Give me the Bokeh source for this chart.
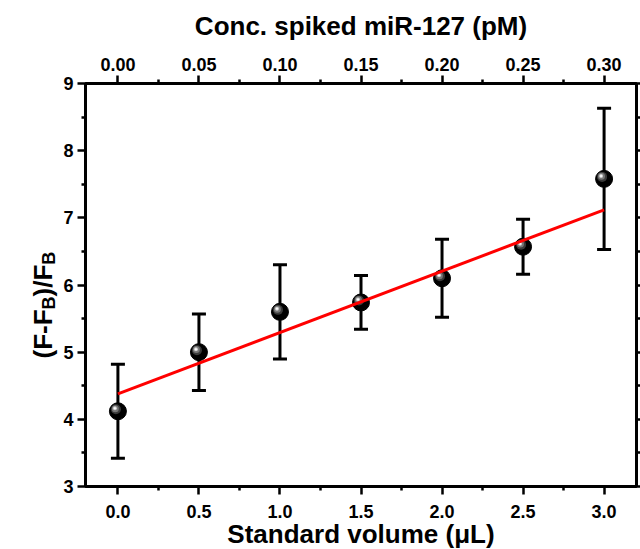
import math
from bokeh.plotting import figure
from bokeh.layouts import row
from bokeh.models import (Range1d, LinearAxis, FixedTicker, NumeralTickFormatter,
                          CustomJSTickFormatter, Whisker, ColumnDataSource, TeeHead, Label)
from bokeh.embed import file_html
from bokeh.resources import INLINE

# ---- data ----
volume = [0.0, 0.5, 1.0, 1.5, 2.0, 2.5, 3.0]          # Standard volume (uL)
ratio = [4.12, 5.00, 5.60, 5.74, 6.10, 6.57, 7.58]     # (F-FB)/FB
err = [0.70, 0.57, 0.70, 0.40, 0.58, 0.41, 1.05]       # error bar half-length
fit_intercept = 4.38
fit_slope = 0.913

x_ticks = [0.0, 0.5, 1.0, 1.5, 2.0, 2.5, 3.0]
x_minor = [0.25, 0.75, 1.25, 1.75, 2.25, 2.75]
y_ticks = [3, 4, 5, 6, 7, 8, 9]
y_minor = [3.5, 4.5, 5.5, 6.5, 7.5, 8.5]
conc_ticks = [0.00, 0.05, 0.10, 0.15, 0.20, 0.25, 0.30]
conc_minor = [0.025, 0.075, 0.125, 0.175, 0.225, 0.275]

FONT = "Liberation Sans"
TOTAL_H = 549
LEFT_W = 58
FW, FH = 551, 403
X0, X1 = -0.2, 3.2
Y0, Y1 = 3, 9
TOP_B = 83

p = figure(frame_width=FW, frame_height=FH, output_backend="svg", toolbar_location=None,
           x_range=Range1d(X0, X1), y_range=Range1d(Y0, Y1),
           min_border_left=85 - LEFT_W, min_border_right=4, min_border_top=TOP_B,
           min_border_bottom=TOTAL_H - TOP_B - FH,
           x_axis_location=None, y_axis_location=None)
p.xgrid.visible = False
p.ygrid.visible = False
p.outline_line_color = "black"
p.outline_line_width = 3
p.background_fill_color = "white"
p.border_fill_color = "white"

p.extra_x_ranges = {"conc": Range1d(X0 / 10, X1 / 10)}


def style_axis(ax, size="18px"):
    ax.axis_line_width = 3
    ax.axis_line_color = "black"
    ax.major_tick_line_width = 2.5
    ax.minor_tick_line_width = 2.5
    ax.major_tick_in = 0
    ax.minor_tick_in = 0
    ax.major_tick_out = 8
    ax.minor_tick_out = 4
    ax.major_label_text_font = FONT
    ax.major_label_text_font_style = "bold"
    ax.major_label_text_font_size = size
    ax.major_label_text_color = "black"
    ax.axis_label_text_font = FONT
    ax.axis_label_text_font_style = "bold"
    ax.axis_label_text_font_size = "26px"
    ax.axis_label_text_color = "black"


bottom = LinearAxis(ticker=FixedTicker(ticks=x_ticks, minor_ticks=x_minor),
                    formatter=NumeralTickFormatter(format="0.0"),
                    axis_label="Standard volume (\u03bcL)")
style_axis(bottom)
bottom.major_label_standoff = 10
bottom.axis_label_standoff = -2
p.add_layout(bottom, "below")

top = LinearAxis(x_range_name="conc",
                 ticker=FixedTicker(ticks=conc_ticks, minor_ticks=conc_minor),
                 formatter=NumeralTickFormatter(format="0.00"),
                 axis_label="Conc. spiked miR-127 (pM)")
style_axis(top)
top.major_label_standoff = 5
top.axis_label_standoff = 14
p.add_layout(top, "above")

left = LinearAxis(ticker=FixedTicker(ticks=y_ticks, minor_ticks=y_minor),
                  formatter=NumeralTickFormatter(format="0"))
style_axis(left)
left.major_label_standoff = 4
p.add_layout(left, "left")

right = LinearAxis(ticker=FixedTicker(ticks=y_ticks, minor_ticks=y_minor),
                   formatter=CustomJSTickFormatter(code="return ''"))
style_axis(right, size="0px")
right.major_tick_out = 4
right.minor_tick_out = 4
right.major_label_standoff = 0
p.add_layout(right, "right")

# ---- error bars ----
src = ColumnDataSource(dict(x=volume, y=ratio,
                            upper=[v + e for v, e in zip(ratio, err)],
                            lower=[v - e for v, e in zip(ratio, err)]))
wk = Whisker(base="x", upper="upper", lower="lower", source=src,
             line_width=3, line_color="black", level="underlay",
             upper_head=TeeHead(size=14, line_width=3, line_color="black"),
             lower_head=TeeHead(size=14, line_width=3, line_color="black"))
p.add_layout(wk)

# ---- sphere markers ----
px_x = FW / (X1 - X0)
px_y = FH / (Y1 - Y0)
p.scatter(volume, ratio, size=17, fill_color="black", line_color="black")
for sz, col, dpx in [(10, "#3a3a3a", 2.0), (7, "#777777", 2.6), (4, "#cfcfcf", 3.0), (2, "#ffffff", 3.0)]:
    p.scatter([v - dpx / px_x for v in volume], [r + dpx / px_y for r in ratio],
              size=sz, fill_color=col, line_color=None)

# ---- linear fit ----
fx = [volume[0], volume[-1]]
p.line(fx, [fit_intercept + fit_slope * v for v in fx], line_color="red", line_width=3)

# ---- y-axis title (with subscripts) in a narrow side panel ----
# (its frame is aligned with the main frame by the row layout)
q = figure(width=LEFT_W, height=TOTAL_H, output_backend="svg", toolbar_location=None,
           x_range=Range1d(0, 1), y_range=Range1d(0, 1),
           min_border=0, x_axis_location=None, y_axis_location=None)
q.xgrid.visible = False
q.ygrid.visible = False
q.outline_line_color = None
q.background_fill_color = "white"
q.border_fill_color = "white"

big, small = 26, 18
base_x = 42
sub_dx = 6
start_y = 126          # measured upward from the bottom of the aligned frame
adv = {"(": 0.333, "F": 0.611, "-": 0.333, "B": 0.722, ")": 0.333, "/": 0.278}
pieces = [("(F-F", big, 0), ("B", small, sub_dx), (")/F", big, 0), ("B", small, sub_dx)]
pos = start_y
for txt, fs, dx in pieces:
    q.add_layout(Label(x=base_x + dx, y=pos, x_units="screen", y_units="screen", text=txt,
                       angle=math.pi / 2, text_font=FONT, text_font_style="bold",
                       text_font_size=f"{fs}px", text_color="black",
                       text_align="left", text_baseline="alphabetic"))
    pos += sum(adv[c] for c in txt) * fs

layout = row(q, p, spacing=0)
open("out.html", "w").write(file_html(layout, INLINE))
